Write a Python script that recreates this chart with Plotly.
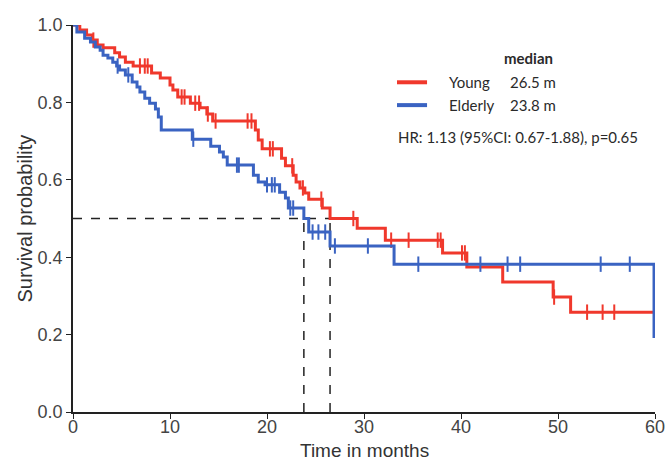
import numpy as np
import plotly.graph_objects as go

# ---- data ----
young_t = [0, 0.7, 1.4, 2.0, 2.5, 3.1, 4.3, 4.8, 5.4, 6.2, 8.1, 9.0, 10.0, 10.3, 10.8, 12.1,
           13.1, 13.8, 14.4, 18.8, 19.1, 19.5, 21.5, 21.9, 22.7, 23.0, 23.4, 23.9, 24.3, 25.7,
           26.5, 29.3, 32.2, 38.1, 40.6, 44.3, 49.5, 51.3, 60.0]
young_s = [1.0, 0.987, 0.974, 0.961, 0.948, 0.941, 0.928, 0.917, 0.904, 0.894, 0.876, 0.863,
           0.845, 0.832, 0.814, 0.798, 0.786, 0.770, 0.752, 0.729, 0.703, 0.680, 0.656, 0.636,
           0.612, 0.594, 0.579, 0.566, 0.550, 0.527, 0.500, 0.475, 0.444, 0.411, 0.375, 0.336,
           0.297, 0.258, 0.258]
young_cens = [2.1, 6.9, 7.4, 7.7, 11.2, 11.5, 12.6, 13.0, 13.9, 14.7, 18.0, 18.4, 20.3, 20.6,
              22.6, 23.7, 25.6, 28.9, 32.8, 34.6, 37.6, 37.9, 40.1, 40.4, 49.6, 53.0, 54.6, 55.8]

elderly_t = [0, 0.4, 1.2, 1.8, 2.3, 2.8, 3.1, 3.6, 4.1, 4.5, 4.8, 5.4, 6.1, 6.6, 6.9, 7.4, 7.9,
             8.5, 8.8, 9.1, 12.3, 14.2, 15.1, 15.5, 15.9, 18.6, 19.1, 19.8, 21.3, 21.9, 22.2,
             23.8, 24.3, 26.5, 33.1, 59.9]
elderly_s = [1.0, 0.982, 0.966, 0.956, 0.943, 0.935, 0.922, 0.915, 0.904, 0.894, 0.884, 0.871,
             0.853, 0.840, 0.827, 0.811, 0.798, 0.783, 0.762, 0.729, 0.705, 0.687, 0.672, 0.659,
             0.638, 0.612, 0.594, 0.587, 0.568, 0.553, 0.527, 0.500, 0.465, 0.429, 0.382, 0.191]
elderly_cens = [4.6, 5.7, 12.4, 16.9, 17.1, 20.0, 20.5, 20.8, 22.4, 22.7, 24.7, 25.3, 26.0,
                27.0, 30.4, 35.6, 42.0, 44.8, 46.1, 54.4, 57.4]

medians = {"Young": 26.5, "Elderly": 23.8}
hr_text = "HR: 1.13 (95%CI: 0.67-1.88), p=0.65"

x_ticks = [0, 10, 20, 30, 40, 50, 60]
y_ticks = [0.0, 0.2, 0.4, 0.6, 0.8, 1.0]
x_title = "Time in months"
y_title = "Survival probability"

RED = "#F0382C"
BLUE = "#3A63C2"


def surv_at(times, surv, t):
    idx = np.searchsorted(np.array(times), np.array(t), side="right") - 1
    return np.array(surv)[idx]


fig = go.Figure()

# median reference lines
for m in medians.values():
    fig.add_trace(go.Scatter(x=[m, m], y=[0, 0.5], mode="lines",
                             line=dict(color="#222", width=1.5, dash="dash"),
                             hoverinfo="skip", showlegend=False))
fig.add_trace(go.Scatter(x=[0, max(medians.values())], y=[0.5, 0.5], mode="lines",
                         line=dict(color="#222", width=1.5, dash="dash"),
                         hoverinfo="skip", showlegend=False))

for t, s, c, col, name in [(young_t, young_s, young_cens, RED, "Young"),
                           (elderly_t, elderly_s, elderly_cens, BLUE, "Elderly")]:
    fig.add_trace(go.Scatter(x=t, y=s, mode="lines", line=dict(color=col, width=3, shape="hv"),
                             name=name, showlegend=False))
    fig.add_trace(go.Scatter(x=c, y=surv_at(t, s, c), mode="markers",
                             marker=dict(symbol="line-ns", size=11,
                                         line=dict(color=col, width=2)),
                             showlegend=False, cliponaxis=False))

# legend-like annotation block
lfont = dict(family="Lato, Open Sans, sans-serif", size=15, color="#2a2a2a")
fig.add_annotation(x=47.0, y=0.915, text="<b>median</b>", showarrow=False, font=lfont,
                   xanchor="center", yanchor="middle")
for name, yv, col in [("Young", 0.852, RED), ("Elderly", 0.793, BLUE)]:
    fig.add_annotation(x=38.6, y=yv, text=name, showarrow=False, font=lfont,
                       xanchor="left", yanchor="middle")
    fig.add_annotation(x=44.8, y=yv, text=f"{medians[name]} m", showarrow=False, font=lfont,
                       xanchor="left", yanchor="middle")
    fig.add_shape(type="line", x0=33.4, x1=36.5, y0=yv, y1=yv, line=dict(color=col, width=4))
fig.add_annotation(x=33.3, y=0.711, text=hr_text, showarrow=False, font=lfont,
                   xanchor="left", yanchor="middle")

# axis titles
tfont = dict(family="Liberation Sans, Arial, sans-serif", size=19, color="#333")
fig.add_annotation(xref="paper", yref="paper", x=0.50, y=-0.1, text=x_title,
                   showarrow=False, font=tfont, xanchor="center", yanchor="middle")
fig.add_annotation(xref="paper", yref="paper", x=-0.0825, y=0.50, text=y_title, textangle=-90,
                   showarrow=False, font=dict(tfont, size=20), xanchor="center", yanchor="middle")

axfont = dict(family="Liberation Sans, Arial, sans-serif", size=18, color="#444")
fig.update_layout(
    width=668, height=462,
    margin=dict(l=73, r=13, t=25, b=50),
    plot_bgcolor="white", paper_bgcolor="white",
    xaxis=dict(range=[0, 60], tickvals=x_ticks, ticktext=[str(v) for v in x_ticks],
               automargin=False, ticklabelstandoff=-7,
               showgrid=False, zeroline=False, showline=True, linecolor="#222", linewidth=1.5,
               ticks="outside", ticklen=5, tickcolor="#222", tickfont=axfont),
    yaxis=dict(range=[0, 1.0], tickvals=y_ticks, ticktext=[f"{v:.1f}" for v in y_ticks],
               automargin=False,
               showgrid=False, zeroline=False, showline=True, linecolor="#222", linewidth=1.5,
               ticks="outside", ticklen=5, tickcolor="#222", tickfont=axfont),
)

fig.write_html("out.html")
